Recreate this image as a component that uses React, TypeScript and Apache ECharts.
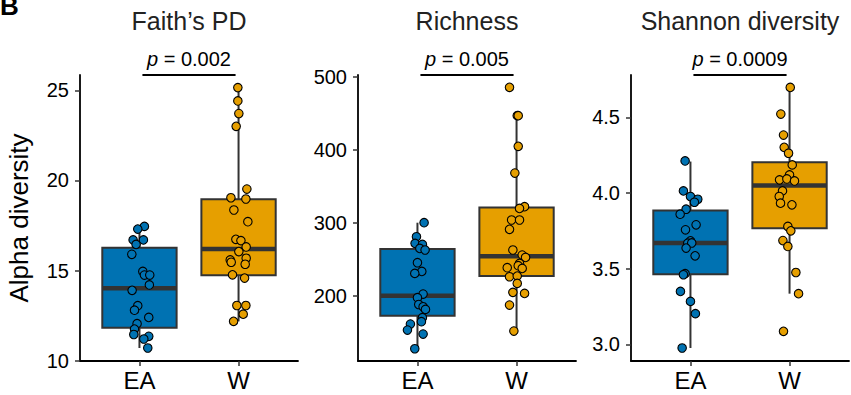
import React, { useEffect, useRef } from "react";
import * as echarts from "echarts";

const categories = ["EA", "W"];
const groupColors = ["#0072B2", "#E69F00"];
const panelTitles = ["Faith\u2019s PD", "Richness", "Shannon diversity"];
const pValues = ["0.002", "0.005", "0.0009"];

// Faith's PD
const faithEA = [17.45, 17.3, 16.7, 16.7, 16.45, 15.9, 14.95, 14.75, 14.75, 14.2, 13.9, 13.05, 12.8, 12.4, 12.05, 11.75, 11.45, 11.35, 11.2, 10.7];
const faithEAJitter = [0.05, -0.017, -0.064, 0.04, -0.034, -0.077, 0.034, 0.05, 0.104, 0.1, -0.074, -0.017, -0.05, 0.094, -0.024, -0.05, -0.057, 0.094, 0.044, 0.084];
const faithW = [25.15, 24.41, 23.71, 23.0, 19.52, 19.04, 18.97, 18.36, 17.71, 16.73, 16.66, 16.31, 16.05, 15.68, 15.59, 15.46, 15.35, 14.76, 14.58, 13.06, 13.06, 12.58, 12.18];
const faithWJitter = [-0.007, -0.007, 0.003, -0.024, 0.084, -0.077, 0.074, -0.047, 0.094, -0.027, 0.024, 0.077, 0.003, 0.077, -0.084, -0.074, 0.067, -0.061, 0.061, -0.017, 0.074, 0.047, -0.05];
const faithBoxEA = [10.7, 11.82, 14.02, 16.27, 17.45];
const faithBoxW = [12.18, 14.74, 16.2, 18.96, 25.15];
const faithTicks = [10, 15, 20, 25];

// Richness
const richEA = [300, 280.8, 271.7, 270.3, 264.8, 262.6, 245.2, 233.3, 230.6, 202.3, 197.3, 188, 184.9, 181.3, 169.9, 164.4, 161.2, 153, 147.5, 127.4];
const richEAJitter = [0.067, -0.01, -0.024, 0.05, 0.024, 0.077, 0, 0.044, -0.027, 0.057, 0, 0.013, 0.057, 0.081, 0.05, 0.04, -0.071, -0.101, 0.057, -0.027];
const richW = [485.4, 446.6, 446.6, 404.6, 368, 322, 319.6, 303.7, 303.7, 290.9, 262.6, 255.7, 252.5, 244.3, 241.1, 238.4, 237.4, 226, 226.9, 216.9, 204.6, 203.2, 187.2, 151.6];
const richWJitter = [-0.071, 0.007, 0.017, 0.017, -0.017, 0.081, 0.03, -0.05, 0.03, -0.071, -0.037, 0.057, 0.091, 0.03, 0.017, -0.094, 0.057, -0.071, 0.007, 0.007, -0.037, 0.081, -0.071, -0.027];
const richBoxEA = [127.4, 172.6, 200, 264, 300];
const richBoxW = [151.6, 227, 254, 321, 447.5];
const richTicks = [200, 300, 400, 500];

// Shannon diversity
const shanEA = [4.212, 4.014, 3.977, 3.959, 3.939, 3.893, 3.86, 3.79, 3.757, 3.684, 3.669, 3.67, 3.636, 3.585, 3.467, 3.46, 3.35, 3.284, 3.203, 2.976];
const shanEAJitter = [-0.054, -0.071, 0, 0.074, 0.04, -0.044, -0.104, 0.057, -0.05, 0, -0.027, 0.013, -0.044, 0.047, -0.054, -0.071, -0.101, 0, 0.05, -0.084];
const shanW = [4.698, 4.522, 4.383, 4.302, 4.263, 4.186, 4.12, 4.087, 4.093, 4.08, 4.014, 3.977, 3.933, 3.922, 3.779, 3.75, 3.686, 3.647, 3.475, 3.335, 3.086];
const shanWJitter = [0.007, -0.088, -0.061, -0.054, -0.01, 0.027, 0, -0.101, -0.027, 0.05, -0.071, -0.104, -0.091, 0.024, -0.017, 0.013, -0.067, -0.017, 0.064, 0.091, -0.061];
const shanBoxEA = [2.976, 3.464, 3.669, 3.884, 4.208];
const shanBoxW = [3.335, 3.768, 4.049, 4.203, 4.698];
const shanTicks = [3.0, 3.5, 4.0, 4.5];

const FONT = '"Liberation Sans", Arial, Helvetica, sans-serif';

const panels = [
  { ea: faithEA, eaJ: faithEAJitter, w: faithW, wJ: faithWJitter, boxEA: faithBoxEA, boxW: faithBoxW, ticks: faithTicks, min: 9.98, max: 25.85, dec: 0, left: 80 },
  { ea: richEA, eaJ: richEAJitter, w: richW, wJ: richWJitter, boxEA: richBoxEA, boxW: richBoxW, ticks: richTicks, min: 110.6, max: 502.3, dec: 0, left: 358 },
  { ea: shanEA, eaJ: shanEAJitter, w: shanW, wJ: shanWJitter, boxEA: shanBoxEA, boxW: shanBoxW, ticks: shanTicks, min: 2.89, max: 4.78, dec: 1, left: 631 },
];

const GRID_TOP = 75;
const GRID_W = 218;
const GRID_H = 286;

function boxRenderItem(params: any, api: any) {
  const x = api.value(0);
  const mn = api.value(1);
  const q1 = api.value(2);
  const md = api.value(3);
  const q3 = api.value(4);
  const mx = api.value(5);
  const hw = 0.375;
  const tl = api.coord([x - hw, q3]);
  const br = api.coord([x + hw, q1]);
  const pMin = api.coord([x, mn]);
  const pMax = api.coord([x, mx]);
  const pQ1 = api.coord([x, q1]);
  const pQ3 = api.coord([x, q3]);
  const mL = api.coord([x - hw, md]);
  const mR = api.coord([x + hw, md]);
  const stroke = "#333333";
  return {
    type: "group",
    children: [
      { type: "line", shape: { x1: pQ3[0], y1: pQ3[1], x2: pMax[0], y2: pMax[1] }, style: { stroke, lineWidth: 2 } },
      { type: "line", shape: { x1: pQ1[0], y1: pQ1[1], x2: pMin[0], y2: pMin[1] }, style: { stroke, lineWidth: 2 } },
      {
        type: "rect",
        shape: { x: tl[0], y: tl[1], width: br[0] - tl[0], height: br[1] - tl[1] },
        style: { fill: groupColors[params.dataIndex], stroke, lineWidth: 2 },
      },
      { type: "line", shape: { x1: mL[0], y1: mL[1], x2: mR[0], y2: mR[1] }, style: { stroke, lineWidth: 4.5 } },
    ],
  };
}

export default function App() {
  const ref = useRef<HTMLDivElement>(null);
  useEffect(() => {
    if (!ref.current) return;
    const chart = echarts.init(ref.current, undefined, { renderer: "svg" });

    const grid = panels.map((p) => ({ left: p.left, top: GRID_TOP, width: GRID_W, height: GRID_H }));
    const xAxis = panels.map((p, i) => ({
      type: "value",
      gridIndex: i,
      min: 0.4,
      max: 2.6,
      splitLine: { show: false },
      axisLine: { show: true, lineStyle: { color: "#000", width: 1.8 } },
      axisTick: { show: true, length: 5, customValues: [1, 2], lineStyle: { color: "#333", width: 1.5 } },
      axisLabel: {
        customValues: [1, 2],
        formatter: (v: number) => categories[Math.round(v) - 1] ?? "",
        fontSize: 24,
        fontFamily: FONT,
        color: "#000",
        margin: 7,
      },
    }));
    const yAxis = panels.map((p, i) => ({
      type: "value",
      gridIndex: i,
      min: p.min,
      max: p.max,
      splitLine: { show: false },
      axisLine: { show: true, lineStyle: { color: "#000", width: 1.8 } },
      axisTick: { show: true, length: 5, customValues: p.ticks, lineStyle: { color: "#333", width: 1.5 } },
      axisLabel: {
        customValues: p.ticks,
        formatter: (v: number) => v.toFixed(p.dec),
        fontSize: 20,
        fontFamily: FONT,
        color: "#000",
        margin: 11,
      },
      name: i === 0 ? "Alpha diversity" : "",
      nameLocation: "middle",
      nameGap: 48,
      nameTextStyle: { fontSize: 26, fontFamily: FONT, color: "#000" },
    }));

    const series: any[] = [];
    panels.forEach((p, i) => {
      series.push({
        type: "custom",
        xAxisIndex: i,
        yAxisIndex: i,
        renderItem: boxRenderItem,
        data: [
          [1, ...p.boxEA],
          [2, ...p.boxW],
        ],
        z: 1,
        clip: false,
      });
      series.push({
        type: "scatter",
        xAxisIndex: i,
        yAxisIndex: i,
        symbolSize: 8.5,
        itemStyle: { color: groupColors[0], borderColor: "#000", borderWidth: 1.1, opacity: 1 },
        data: p.ea.map((v, k) => [1 + p.eaJ[k], v]),
        z: 3,
      });
      series.push({
        type: "scatter",
        xAxisIndex: i,
        yAxisIndex: i,
        symbolSize: 8.5,
        itemStyle: { color: groupColors[1], borderColor: "#000", borderWidth: 1.1, opacity: 1 },
        data: p.w.map((v, k) => [2 + p.wJ[k], v]),
        z: 3,
      });
      series.push({
        type: "line",
        xAxisIndex: i,
        yAxisIndex: i,
        symbol: "none",
        clip: false,
        lineStyle: { color: "#000", width: 2 },
        data: [
          [1.03, p.max],
          [1.97, p.max],
        ],
        z: 4,
      });
      series.push({
        type: "scatter",
        xAxisIndex: i,
        yAxisIndex: i,
        symbolSize: 0,
        clip: false,
        itemStyle: { opacity: 1 },
        data: [[1.5, p.max]],
        label: {
          show: true,
          position: "top",
          distance: 6,
          formatter: `{i|p} = ${pValues[i]}`,
          fontSize: 20,
          fontFamily: FONT,
          color: "#000",
          rich: { i: { fontStyle: "italic", fontSize: 20, fontFamily: FONT, color: "#000" } },
        },
        z: 4,
      });
    });

    chart.setOption({
      animation: false,
      backgroundColor: "#fff",
      title: panels.map((p, i) => ({
        text: panelTitles[i],
        left: p.left + GRID_W / 2,
        top: 8,
        padding: 0,
        textAlign: "center",
        textStyle: { fontSize: 25, fontWeight: "normal", fontFamily: FONT, color: "#222" },
      })),
      graphic: [
        {
          type: "text",
          x: 0,
          y: 19,
          style: { text: "B", fontSize: 26, fontWeight: "bold", fontFamily: FONT, fill: "#000", verticalAlign: "bottom" },
        },
      ],
      grid,
      xAxis,
      yAxis,
      series,
    });
    return () => chart.dispose();
  }, []);
  return <div ref={ref} style={{ position: "absolute", left: 0, top: 0, width: 851, height: 395 }} />;
}
